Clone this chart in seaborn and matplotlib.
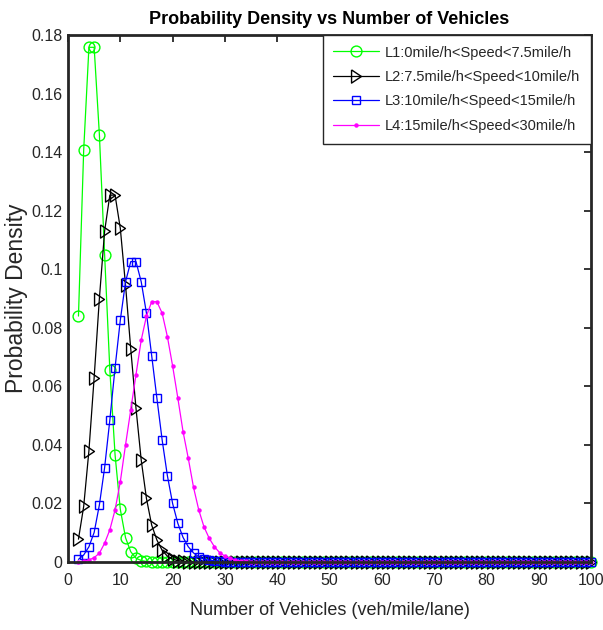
import matplotlib
matplotlib.use("Agg")
import matplotlib.pyplot as plt
import seaborn as sns

# x axis: number of vehicles, one point per count
vehicles = list(range(2, 101))

# densities (the long flat tail is zero)
l1_density = [0.084, 0.1407, 0.1758, 0.1758, 0.146, 0.105, 0.0656, 0.0366,
              0.018, 0.0083, 0.0035, 0.0013, 0.0005, 0.0002, 0.0001]
l2_density = [0.0078, 0.019, 0.038, 0.063, 0.090, 0.113, 0.1253, 0.1253,
              0.114, 0.0946, 0.0727, 0.0525, 0.0348, 0.0217, 0.0126, 0.0075,
              0.004, 0.002, 0.001, 0.0005, 0.0002, 0.0001]
l3_density = [0.0009, 0.0024, 0.0052, 0.0101, 0.0195, 0.0322, 0.0485, 0.0664,
              0.0826, 0.0957, 0.1026, 0.1026, 0.0957, 0.085, 0.0705, 0.0559,
              0.0417, 0.0295, 0.020, 0.0132, 0.0084, 0.0052, 0.0031, 0.0018,
              0.001, 0.0006, 0.0003, 0.0002, 0.0001]
l4_density = [0.0001, 0.0003, 0.0007, 0.0015, 0.003, 0.0064, 0.011, 0.0178,
              0.0274, 0.040, 0.052, 0.064, 0.0758, 0.084, 0.0889, 0.0889,
              0.085, 0.077, 0.067, 0.056, 0.0445, 0.0354, 0.0255, 0.0178,
              0.012, 0.0081, 0.0052, 0.0032, 0.002, 0.0012, 0.0007, 0.0004,
              0.0002, 0.0001]

labels = ["L1:0mile/h<Speed<7.5mile/h",
          "L2:7.5mile/h<Speed<10mile/h",
          "L3:10mile/h<Speed<15mile/h",
          "L4:15mile/h<Speed<30mile/h"]

y_ticks = [0, 0.02, 0.04, 0.06, 0.08, 0.1, 0.12, 0.14, 0.16, 0.18]
x_ticks = [0, 10, 20, 30, 40, 50, 60, 70, 80, 90, 100]


def pad_tail(values):
    # the tail past the last read value sits on zero
    return values + [0.0] * (len(vehicles) - len(values))


sns.set_style("white")
plt.rcParams["font.family"] = ["Liberation Sans", "DejaVu Sans"]

fig = plt.figure(figsize=(6.03, 6.30), dpi=100)
ax = fig.add_axes([68 / 603, 1 - 562 / 630, 523 / 603, 527 / 630])

# open triangle pointing right, taller than wide like the matlab one
tri_right = [(-0.75, 1), (0.75, 0), (-0.75, -1), (-0.75, 1)]

styles = [
    dict(color="#00ff00", marker="o", markersize=7.8, markerfacecolor="none"),
    dict(color="black", marker=tri_right, markersize=9.5, markerfacecolor="none"),
    dict(color="#0000ff", marker="s", markersize=6.2, markerfacecolor="none"),
    dict(color="#ff00ff", marker="o", markersize=2.2, markerfacecolor="#ff00ff"),
]
series = [l1_density, l2_density, l3_density, l4_density]

for vals, lab, st in zip(series, labels, styles):
    sns.lineplot(x=vehicles, y=pad_tail(vals), ax=ax, label=lab,
                 color=st["color"], marker=st["marker"],
                 markersize=st["markersize"],
                 markerfacecolor=st["markerfacecolor"],
                 markeredgecolor=st["color"], markeredgewidth=1.0,
                 linewidth=0.9, clip_on=False)

ax.set_xlim(0, 100)
ax.set_ylim(0, 0.18)
ax.set_xticks(x_ticks)
ax.set_xticklabels([str(t) for t in x_ticks])
ax.set_yticks(y_ticks)
ax.set_yticklabels([f"{t:g}" for t in y_ticks])
ax.tick_params(direction="in", length=5, width=1.3, top=True, right=True,
               labelsize=11.5, labelcolor="#262626", pad=4)
ax.tick_params(axis="x", pad=8)

for sp in ax.spines.values():
    sp.set_visible(True)
    sp.set_linewidth(2)
    sp.set_color("#262626")

ax.set_title("Probability Density vs Number of Vehicles", fontsize=13,
             fontweight="bold", color="black", pad=8)
ax.set_xlabel("Number of Vehicles (veh/mile/lane)", fontsize=13,
              color="#262626", labelpad=10)
ax.set_ylabel("Probability Density", fontsize=16.5, color="#262626",
              labelpad=2)

leg = ax.legend(loc="upper right", borderaxespad=0, fontsize=10.5,
                handlelength=3.1, handletextpad=0.45, labelspacing=0.72,
                borderpad=0.72, fancybox=False, framealpha=1)
leg.get_frame().set_edgecolor("#262626")
leg.get_frame().set_linewidth(1.0)

fig.savefig("out.png", dpi=100)
